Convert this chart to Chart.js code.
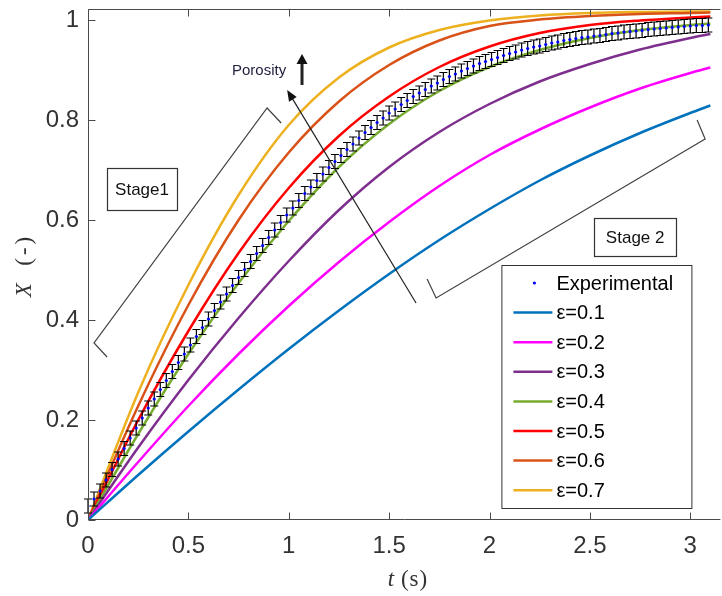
<!DOCTYPE html>
<html>
<head>
<meta charset="utf-8">
<script src="https://cdn.jsdelivr.net/npm/chart.js@4.4.1/dist/chart.umd.min.js"></script>
<style>
  html, body { margin: 0; padding: 0; background: #fff; }
</style>
</head>
<body>
<canvas id="chart" width="722" height="596"></canvas>
<script>
// model curves, sampled at these times (s)
const modelTime = [0, 0.25, 0.5, 0.75, 1.0, 1.25, 1.5, 1.75, 2.0, 2.25, 2.5, 2.75, 3.0, 3.1];
const eps01 = [0, 0.09, 0.177, 0.261, 0.342, 0.419, 0.492, 0.560, 0.622, 0.679, 0.729, 0.774, 0.814, 0.829];
const eps02 = [0, 0.116, 0.228, 0.332, 0.428, 0.516, 0.596, 0.668, 0.730, 0.781, 0.825, 0.863, 0.894, 0.905];
const eps03 = [0, 0.145, 0.280, 0.404, 0.518, 0.620, 0.706, 0.776, 0.832, 0.877, 0.912, 0.941, 0.964, 0.972];
const eps04 = [0, 0.172, 0.332, 0.474, 0.598, 0.706, 0.792, 0.858, 0.906, 0.940, 0.964, 0.980, 0.990, 0.993];
const eps05 = [0, 0.200, 0.378, 0.534, 0.664, 0.768, 0.847, 0.906, 0.947, 0.974, 0.990, 0.999, 1.005, 1.007];
const eps06 = [0, 0.228, 0.430, 0.600, 0.735, 0.837, 0.910, 0.959, 0.988, 1.001, 1.008, 1.012, 1.014, 1.015];
const eps07 = [0, 0.255, 0.470, 0.650, 0.790, 0.885, 0.945, 0.980, 0.999, 1.009, 1.014, 1.016, 1.017, 1.017];

// experimental points
const expTime = [
  0, 0.03, 0.06, 0.09, 0.12, 0.15, 0.18, 0.21, 0.24, 0.27,
  0.30, 0.33, 0.36, 0.39, 0.42, 0.45, 0.48, 0.51, 0.54, 0.57,
  0.60, 0.63, 0.66, 0.69, 0.72, 0.75, 0.78, 0.81, 0.84, 0.87,
  0.90, 0.93, 0.96, 0.99, 1.02, 1.05, 1.08, 1.11, 1.14, 1.17,
  1.20, 1.23, 1.26, 1.29, 1.32, 1.35, 1.38, 1.41, 1.44, 1.47,
  1.50, 1.53, 1.56, 1.59, 1.62, 1.65, 1.68, 1.71, 1.74, 1.77,
  1.80, 1.83, 1.86, 1.89, 1.92, 1.95, 1.98, 2.01, 2.04, 2.07,
  2.10, 2.13, 2.16, 2.19, 2.22, 2.25, 2.28, 2.31, 2.34, 2.37,
  2.40, 2.43, 2.46, 2.49, 2.52, 2.55, 2.58, 2.61, 2.64, 2.67,
  2.70, 2.73, 2.76, 2.79, 2.82, 2.85, 2.88, 2.91, 2.94, 2.97,
  3.00, 3.03, 3.06, 3.09
];
const expX = [
  0.028, 0.042, 0.058, 0.080, 0.101, 0.122, 0.143, 0.164, 0.184, 0.204,
  0.224, 0.242, 0.261, 0.279, 0.297, 0.315, 0.332, 0.350, 0.367, 0.385,
  0.402, 0.419, 0.436, 0.452, 0.469, 0.485, 0.501, 0.517, 0.533, 0.549,
  0.565, 0.580, 0.595, 0.610, 0.624, 0.639, 0.653, 0.666, 0.679, 0.692,
  0.705, 0.717, 0.729, 0.741, 0.752, 0.764, 0.775, 0.785, 0.795, 0.804,
  0.814, 0.822, 0.831, 0.839, 0.847, 0.854, 0.861, 0.868, 0.874, 0.881,
  0.887, 0.892, 0.898, 0.903, 0.908, 0.913, 0.917, 0.921, 0.925, 0.929,
  0.933, 0.936, 0.940, 0.943, 0.946, 0.948, 0.951, 0.954, 0.956, 0.959,
  0.961, 0.963, 0.965, 0.966, 0.968, 0.969, 0.971, 0.973, 0.974, 0.976,
  0.977, 0.978, 0.979, 0.981, 0.982, 0.983, 0.984, 0.985, 0.986, 0.987,
  0.988, 0.989, 0.989, 0.990
];
const expErr = 0.014;

const seriesLabels = ['ε=0.1', 'ε=0.2', 'ε=0.3', 'ε=0.4', 'ε=0.5', 'ε=0.6', 'ε=0.7'];
const seriesColors = ['#0072BD', '#FF00FF', '#7E2F8E', '#77AC30', '#FF0000', '#D95319', '#EDB120'];
const seriesValues = [eps01, eps02, eps03, eps04, eps05, eps06, eps07];

const xTicks = [0, 0.5, 1, 1.5, 2, 2.5, 3];
const yTicks = [0, 0.2, 0.4, 0.6, 0.8, 1];

// text boxes, brackets and arrows, in data units
const notes = {
  stage1Bracket: [[0.095, 0.326], [0.030, 0.354], [0.892, 0.824], [0.962, 0.794]],
  stage2Bracket: [[3.034, 0.800], [3.074, 0.762], [1.734, 0.444], [1.689, 0.482]],
  arrowFrom: [1.634, 0.434],
  arrowTo: [0.992, 0.860],
  porosityAt: [0.717, 0.898],
  bigArrow: [1.066, 0.870, 0.932],
  stage1Box: [0.095, 0.704, 0.443, 0.620],
  stage2Box: [2.521, 0.604, 2.930, 0.528]
};

const AX = '#4a4a4a';
const SANS = '"Liberation Sans", Arial, sans-serif';
const SERIF = '"Liberation Serif", "Times New Roman", serif';

const datasets = [{
  label: 'Experimental',
  data: expTime.map((t, i) => ({ x: t, y: expX[i] })),
  showLine: false,
  pointRadius: 1.6,
  pointHoverRadius: 1.6,
  pointBackgroundColor: '#0000FF',
  pointBorderWidth: 0,
  borderColor: '#0000FF'
}];
seriesValues.forEach((vals, k) => {
  datasets.push({
    label: seriesLabels[k],
    data: modelTime.map((t, i) => ({ x: t, y: vals[i] })),
    showLine: true,
    borderColor: seriesColors[k],
    borderWidth: 2.5,
    pointRadius: 0,
    cubicInterpolationMode: 'monotone'
  });
});

function arrowHead(ctx, x1, y1, x2, y2, len, half) {
  const a = Math.atan2(y2 - y1, x2 - x1);
  ctx.beginPath();
  ctx.moveTo(x2, y2);
  ctx.lineTo(x2 - len * Math.cos(a) + half * Math.sin(a), y2 - len * Math.sin(a) - half * Math.cos(a));
  ctx.lineTo(x2 - len * Math.cos(a) - half * Math.sin(a), y2 - len * Math.sin(a) + half * Math.cos(a));
  ctx.closePath();
  ctx.fill();
}

const decor = {
  id: 'decor',
  beforeDatasetDraw(chart, args) {
    if (args.index !== 0) return;
    const { ctx, scales: { x, y } } = chart;
    ctx.save();
    ctx.strokeStyle = '#000';
    ctx.lineWidth = 1.2;
    ctx.beginPath();
    expTime.forEach((t, i) => {
      const px = x.getPixelForValue(t);
      const y1 = y.getPixelForValue(expX[i] + expErr);
      const y2 = y.getPixelForValue(expX[i] - expErr);
      ctx.moveTo(px, y1); ctx.lineTo(px, y2);
      ctx.moveTo(px - 4, y1); ctx.lineTo(px + 4, y1);
      ctx.moveTo(px - 4, y2); ctx.lineTo(px + 4, y2);
    });
    ctx.stroke();
    ctx.restore();
  },
  afterDatasetsDraw(chart) {
    const { ctx, chartArea: { left, right, top, bottom }, scales: { x, y } } = chart;
    const L = Math.round(left) + 0.5, T = Math.round(top) + 0.5, B = Math.round(bottom) - 0.5;
    ctx.save();
    ctx.strokeStyle = AX;
    ctx.lineWidth = 1;
    ctx.beginPath();
    ctx.moveTo(L, B); ctx.lineTo(L, T); ctx.lineTo(right, T);
    ctx.moveTo(L, B); ctx.lineTo(right, B);
    xTicks.forEach(v => {
      const px = Math.round(x.getPixelForValue(v)) + 0.5;
      ctx.moveTo(px, B); ctx.lineTo(px, B - 7);
      ctx.moveTo(px, T); ctx.lineTo(px, T + 7);
    });
    yTicks.forEach(v => {
      const py = Math.round(y.getPixelForValue(v)) + 0.5;
      ctx.moveTo(L, py); ctx.lineTo(L + 7, py);
    });
    ctx.stroke();
    ctx.restore();
  },
  afterDraw(chart) {
    const { ctx, chartArea: { left, right, top, bottom }, scales: { x, y } } = chart;
    const P = (p) => [x.getPixelForValue(p[0]), y.getPixelForValue(p[1])];
    ctx.save();

    // brackets
    ctx.strokeStyle = '#404040';
    ctx.lineWidth = 1.2;
    [notes.stage1Bracket, notes.stage2Bracket].forEach(br => {
      ctx.beginPath();
      br.forEach((p, i) => {
        const [px, py] = P(p);
        if (i === 0) ctx.moveTo(px, py); else ctx.lineTo(px, py);
      });
      ctx.stroke();
    });

    // porosity arrow
    const [ax1, ay1] = P(notes.arrowFrom);
    const [ax2, ay2] = P(notes.arrowTo);
    ctx.strokeStyle = '#222';
    ctx.fillStyle = '#111';
    ctx.lineWidth = 1.2;
    ctx.beginPath();
    ctx.moveTo(ax1, ay1);
    ctx.lineTo(ax2 + (ax1 - ax2) * 0.03, ay2 + (ay1 - ay2) * 0.03);
    ctx.stroke();
    arrowHead(ctx, ax1, ay1, ax2, ay2, 11, 4.5);

    // big up arrow
    const bx = x.getPixelForValue(notes.bigArrow[0]);
    const by1 = y.getPixelForValue(notes.bigArrow[1]);
    const by2 = y.getPixelForValue(notes.bigArrow[2]);
    ctx.lineWidth = 3;
    ctx.beginPath();
    ctx.moveTo(bx, by1); ctx.lineTo(bx, by2 + 6);
    ctx.stroke();
    arrowHead(ctx, bx, by1, bx, by2, 10, 5.5);

    // porosity label
    const [lx, ly] = P(notes.porosityAt);
    ctx.fillStyle = '#1e1e3c';
    ctx.font = '15px ' + SANS;
    ctx.textAlign = 'left';
    ctx.textBaseline = 'middle';
    ctx.fillText('Porosity', lx, ly);

    // stage boxes
    [[notes.stage1Box, 'Stage1'], [notes.stage2Box, 'Stage 2']].forEach(([b, txt]) => {
      const [x1, y1] = P([b[0], b[1]]);
      const [x2, y2] = P([b[2], b[3]]);
      ctx.fillStyle = '#fff';
      ctx.fillRect(x1, y1, x2 - x1, y2 - y1);
      ctx.strokeStyle = '#333';
      ctx.lineWidth = 1.2;
      ctx.strokeRect(Math.round(x1) + 0.5, Math.round(y1) + 0.5, Math.round(x2 - x1), Math.round(y2 - y1));
      ctx.fillStyle = '#111';
      ctx.font = '17px ' + SANS;
      ctx.textAlign = 'center';
      ctx.textBaseline = 'middle';
      ctx.fillText(txt, (x1 + x2) / 2, (y1 + y2) / 2 + 1);
    });

    // legend
    const lgL = right - 219, lgR = right - 29, lgB = bottom - 12, lgT = bottom - 255;
    ctx.fillStyle = '#fff';
    ctx.fillRect(lgL, lgT, lgR - lgL, lgB - lgT);
    ctx.strokeStyle = '#333';
    ctx.lineWidth = 1;
    ctx.strokeRect(lgL + 0.5, lgT + 0.5, lgR - lgL, lgB - lgT);
    ctx.font = '20px ' + SANS;
    ctx.textAlign = 'left';
    ctx.textBaseline = 'middle';
    chart.data.datasets.forEach((ds, i) => {
      const ry = lgT + 18 + i * 29.6;
      if (i === 0) {
        ctx.fillStyle = ds.pointBackgroundColor;
        ctx.beginPath();
        ctx.arc(lgL + 33, ry, 1.6, 0, Math.PI * 2);
        ctx.fill();
      } else {
        ctx.strokeStyle = ds.borderColor;
        ctx.lineWidth = 2.5;
        ctx.beginPath();
        ctx.moveTo(lgL + 12, ry); ctx.lineTo(lgL + 51, ry);
        ctx.stroke();
      }
      ctx.fillStyle = '#000';
      ctx.fillText(ds.label, lgL + 55, ry + 1);
    });

    // axis titles (italic symbol, upright unit)
    ctx.fillStyle = '#333';
    ctx.textBaseline = 'middle';
    ctx.textAlign = 'left';
    const drawTitle = (sym, unit, cx, cy, size, gap) => {
      ctx.font = 'italic ' + size + 'px ' + SERIF;
      const w1 = ctx.measureText(sym).width;
      ctx.font = size + 'px ' + SERIF;
      ctx.letterSpacing = gap;
      const w2 = ctx.measureText(unit).width;
      const sx = cx - (w1 + w2) / 2;
      ctx.letterSpacing = '0px';
      ctx.font = 'italic ' + size + 'px ' + SERIF;
      ctx.fillText(sym, sx, cy);
      ctx.font = size + 'px ' + SERIF;
      ctx.letterSpacing = gap;
      ctx.fillText(unit, sx + w1, cy);
      ctx.letterSpacing = '0px';
    };
    drawTitle('t', ' (s)', 408, 580, 23, '1px');
    ctx.translate(25, (top + bottom) / 2 + 1);
    ctx.rotate(-Math.PI / 2);
    drawTitle('X', '  (-)', 0, 0, 23, '3px');

    ctx.restore();
  }
};

new Chart(document.getElementById('chart'), {
  type: 'scatter',
  data: { datasets },
  options: {
    responsive: false,
    animation: false,
    events: [],
    layout: { padding: { left: 0, right: 0, top: 9, bottom: 0 } },
    plugins: {
      legend: { display: false },
      tooltip: { enabled: false }
    },
    scales: {
      x: {
        type: 'linear',
        min: 0,
        max: 3.15,
        grid: { display: false, drawTicks: false },
        border: { display: false },
        afterBuildTicks: (s) => { s.ticks = xTicks.map(v => ({ value: v })); },
        afterFit: (s) => { s.height = 76; s.paddingLeft = 0; s.paddingRight = 0; },
        ticks: {
          padding: 12,
          maxRotation: 0,
          color: '#333',
          font: { family: SANS, size: 24 },
          callback: (v) => String(v)
        }
      },
      y: {
        type: 'linear',
        min: 0,
        max: 1.022,
        grid: { display: false, drawTicks: false },
        border: { display: false },
        afterBuildTicks: (s) => { s.ticks = yTicks.map(v => ({ value: v })); },
        afterFit: (s) => { s.width = 88; s.paddingTop = 0; s.paddingBottom = 0; },
        ticks: {
          padding: 9,
          color: '#333',
          font: { family: SANS, size: 24 },
          callback: (v) => String(v)
        }
      }
    }
  },
  plugins: [decor]
});
</script>
</body>
</html>
